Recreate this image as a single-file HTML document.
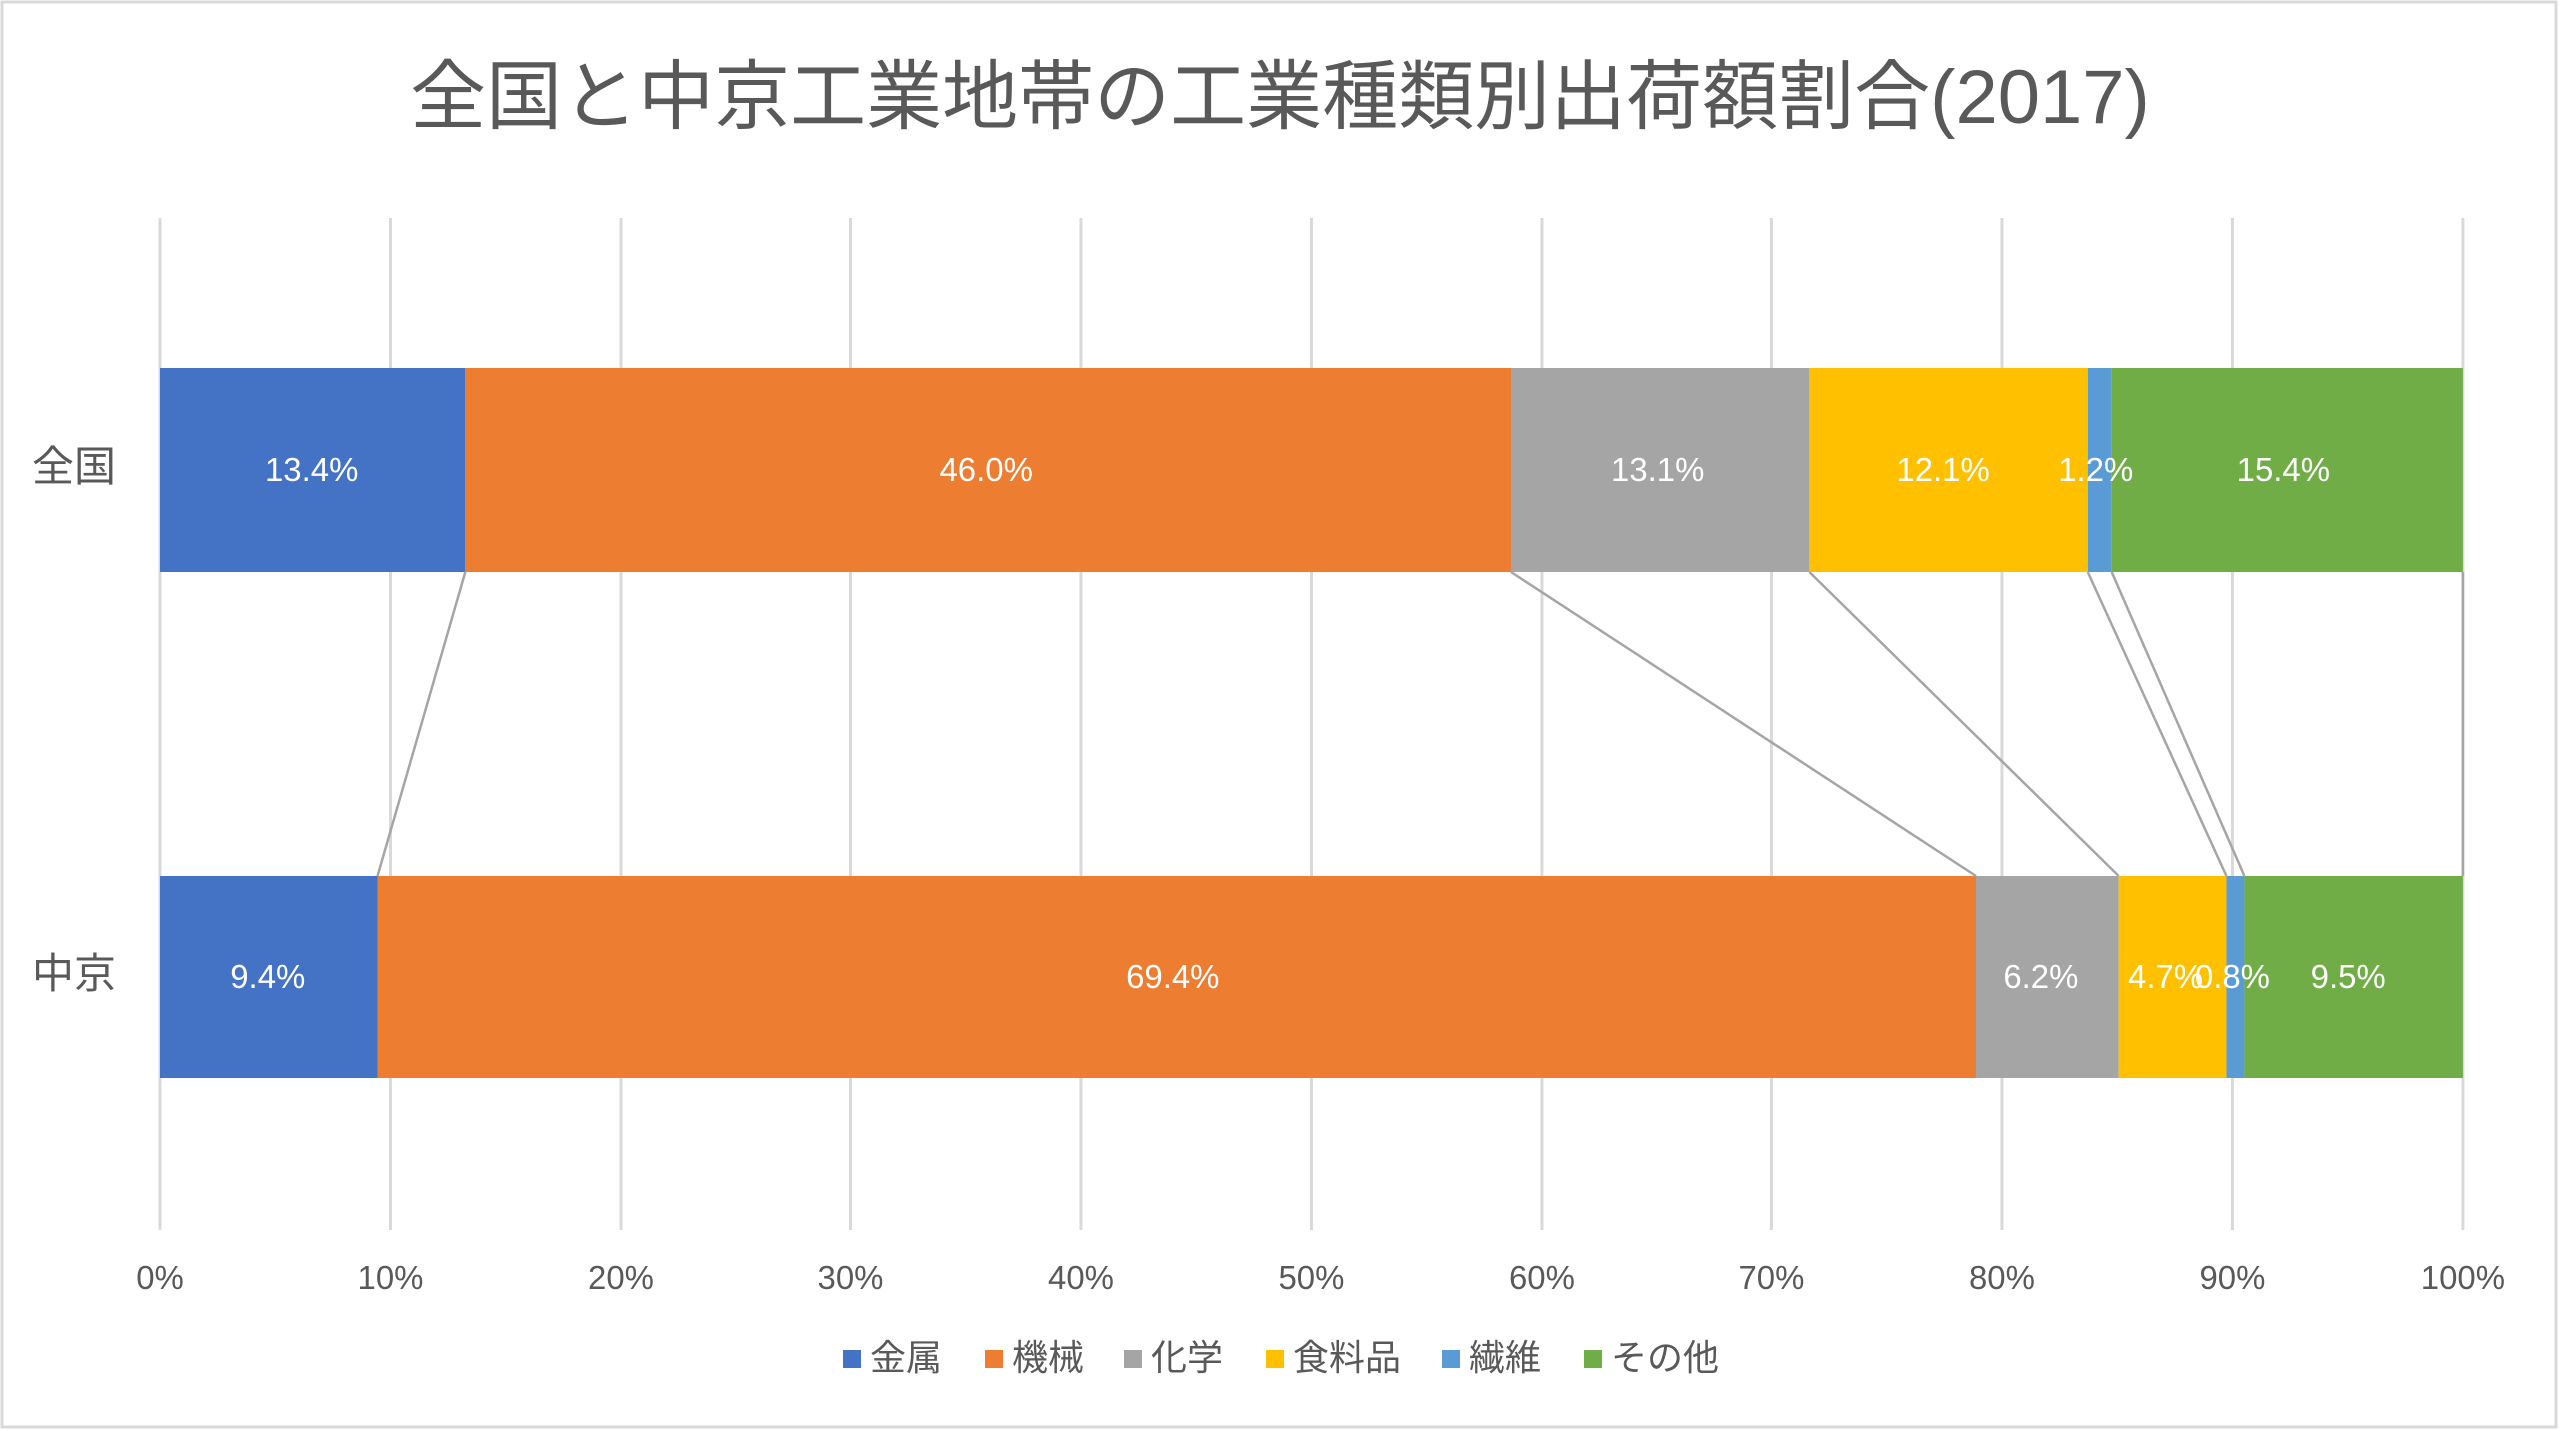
<!DOCTYPE html>
<html><head><meta charset="utf-8"><style>
html,body{margin:0;padding:0;background:#fff}
svg{display:block}
text{font-family:"Liberation Sans","Noto Sans CJK JP",sans-serif}
</style></head><body>
<svg width="2560" height="1431" viewBox="0 0 2560 1431" xmlns="http://www.w3.org/2000/svg">
<rect x="2" y="2" width="2554" height="1425" fill="#fff" stroke="#d9d9d9" stroke-width="3"/>
<text x="1280" y="123" text-anchor="middle" font-size="76" fill="#595959">全国と中京工業地帯の工業種類別出荷額割合(2017)</text>
<g transform="translate(160,0) scale(0.9978,1) translate(-160,0)">
<g stroke="#d9d9d9" stroke-width="3">
<line x1="160" y1="218" x2="160" y2="1230"/><line x1="391" y1="218" x2="391" y2="1230"/><line x1="622" y1="218" x2="622" y2="1230"/><line x1="852" y1="218" x2="852" y2="1230"/><line x1="1083" y1="218" x2="1083" y2="1230"/><line x1="1314" y1="218" x2="1314" y2="1230"/><line x1="1545" y1="218" x2="1545" y2="1230"/><line x1="1775" y1="218" x2="1775" y2="1230"/><line x1="2006" y1="218" x2="2006" y2="1230"/><line x1="2237" y1="218" x2="2237" y2="1230"/><line x1="2468" y1="218" x2="2468" y2="1230"/>
</g>
<g>
<rect x="160" y="368" width="306" height="204" fill="#4472c4"/>
<rect x="466" y="368" width="1048" height="204" fill="#ed7d31"/>
<rect x="1514" y="368" width="299" height="204" fill="#a5a5a5"/>
<rect x="1813" y="368" width="279" height="204" fill="#ffc000"/>
<rect x="2092" y="368" width="24" height="204" fill="#5b9bd5"/>
<rect x="2116" y="368" width="352" height="204" fill="#70ad47"/>
<rect x="160" y="876" width="218" height="202" fill="#4472c4"/>
<rect x="378" y="876" width="1602" height="202" fill="#ed7d31"/>
<rect x="1980" y="876" width="143" height="202" fill="#a5a5a5"/>
<rect x="2123" y="876" width="108" height="202" fill="#ffc000"/>
<rect x="2231" y="876" width="18" height="202" fill="#5b9bd5"/>
<rect x="2249" y="876" width="219" height="202" fill="#70ad47"/>
</g>
<g stroke="#a5a5a5" stroke-width="2.5">
<line x1="466" y1="572" x2="378" y2="876"/>
<line x1="1514" y1="572" x2="1980" y2="876"/>
<line x1="1813" y1="572" x2="2123" y2="876"/>
<line x1="2092" y1="572" x2="2231" y2="876"/>
<line x1="2116" y1="572" x2="2249" y2="876"/>
<line x1="2468" y1="572" x2="2468" y2="876"/>
</g>
<g font-size="33" fill="#fff" text-anchor="middle">
<text x="312" y="481">13.4%</text><text x="988" y="481">46.0%</text><text x="1661" y="481">13.1%</text><text x="1947" y="481">12.1%</text><text x="2100" y="481">1.2%</text><text x="2288" y="481">15.4%</text>
<text x="268" y="988">9.4%</text><text x="1175" y="988">69.4%</text><text x="2045" y="988">6.2%</text><text x="2170" y="988">4.7%</text><text x="2237" y="988">0.8%</text><text x="2353" y="988">9.5%</text>
</g>
<g font-size="33" fill="#595959" text-anchor="middle">
<text x="160" y="1289">0%</text><text x="391" y="1289">10%</text><text x="622" y="1289">20%</text><text x="852" y="1289">30%</text><text x="1083" y="1289">40%</text><text x="1314" y="1289">50%</text><text x="1545" y="1289">60%</text><text x="1775" y="1289">70%</text><text x="2006" y="1289">80%</text><text x="2237" y="1289">90%</text><text x="2468" y="1289">100%</text>
</g>
</g>
<g font-size="42" fill="#595959" text-anchor="middle">
<text x="74" y="481">全国</text><text x="74" y="988">中京</text>
</g>
<g font-size="36" fill="#595959">
<rect x="843" y="1350" width="18" height="18" fill="#4472c4"/><text x="870" y="1370">金属</text>
<rect x="985" y="1350" width="18" height="18" fill="#ed7d31"/><text x="1012" y="1370">機械</text>
<rect x="1124" y="1350" width="18" height="18" fill="#a5a5a5"/><text x="1151" y="1370">化学</text>
<rect x="1266" y="1350" width="18" height="18" fill="#ffc000"/><text x="1293" y="1370">食料品</text>
<rect x="1442" y="1350" width="18" height="18" fill="#5b9bd5"/><text x="1469" y="1370">繊維</text>
<rect x="1584" y="1350" width="18" height="18" fill="#70ad47"/><text x="1611" y="1370">その他</text>
</g>
</svg>
</body></html>
